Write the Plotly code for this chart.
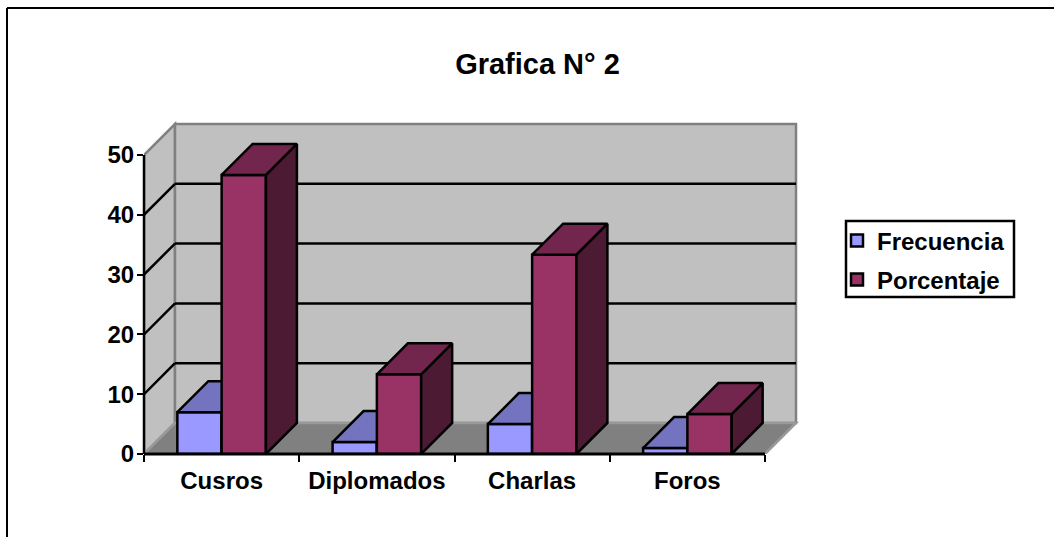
import plotly.graph_objects as go

categories = ["Cusros", "Diplomados", "Charlas", "Foros"]
frecuencia = [7, 2, 5, 1]
porcentaje = [46.67, 13.33, 33.33, 6.67]
y_ticks = [0, 10, 20, 30, 40, 50]
title_text = "Grafica N° 2"

W, H = 1054, 537
PAD = 4
L, T, PW, PH = 144, 124 - PAD, 652 + PAD, 330 + PAD
DEPTH_PX = 31
CAT_PX = 155.3
UNIT_PX = 299 / 50
DX = DEPTH_PX / CAT_PX
DY = DEPTH_PX / UNIT_PX
N = len(categories)
YMAX = y_ticks[-1]
BAR_W = 44.3 / CAT_PX
FONT = "Liberation Sans, Arial, sans-serif"
BLACK = "#000000"
GRAY = "#808080"
WALL = "#C0C0C0"
LW = 2.5


def path(points):
    return "M " + " L ".join(f"{x},{y}" for x, y in points) + " Z"


def poly(points, fill, line=BLACK, lw=2.5, layer="below"):
    return dict(type="path", xref="x", yref="y", path=path(points), fillcolor=fill,
                line=dict(color=line, width=lw), layer=layer)


def seg(x0, y0, x1, y1, color=BLACK, lw=LW, layer="below"):
    return dict(type="line", xref="x", yref="y", x0=x0, y0=y0, x1=x1, y1=y1,
                line=dict(color=color, width=lw), layer=layer)


def px(p):
    return (p - L) / PW


def py(p):
    return 1 - (p - T) / PH


def pseg(px0, py0, px1, py1, lw=2):
    return dict(type="line", xref="paper", yref="paper",
                x0=px(px0), x1=px(px1), y0=py(py0), y1=py(py1),
                line=dict(color=BLACK, width=lw), layer="above")


x_range = [0, N + DX + PAD / CAT_PX]
y_range = [0, YMAX + DY + PAD / UNIT_PX]

shapes = [
    poly([(0, 0), (DX, DY), (DX, YMAX + DY), (0, YMAX)], WALL, GRAY),
    poly([(DX, DY), (N + DX, DY), (N + DX, YMAX + DY), (DX, YMAX + DY)], WALL, GRAY),
    poly([(0, 0), (N, 0), (N + DX, DY), (DX, DY)], GRAY, "#999999"),
]
for v in y_ticks[1:-1]:
    shapes.append(seg(0, v, DX, v + DY))
    shapes.append(seg(DX, v + DY, N + DX, v + DY))
# value axis and category axis, unclipped on the outer edge of the plot area
shapes.append(dict(type="line", xref="paper", yref="y", x0=0, x1=0, y0=0, y1=YMAX,
                   line=dict(color=BLACK, width=LW), layer="above"))
shapes.append(dict(type="line", xref="x", yref="paper", x0=0, x1=N, y0=0, y1=0,
                   line=dict(color=BLACK, width=3), layer="above"))
shapes.append(pseg(7, 8, W + 5, 8))
shapes.append(pseg(7, 8, 7, H + 5))
# legend frame
shapes.append(dict(type="rect", xref="paper", yref="paper",
                   x0=px(846), x1=px(1014), y0=py(221), y1=py(297),
                   fillcolor="white", line=dict(color=BLACK, width=2.5), layer="above"))


def faces(xs, ys, top, side, xa, ya):
    """Top and side faces of a 3D bar, derived from data values."""
    out = []
    for x0, v in zip(xs, ys):
        x1 = x0 + BAR_W
        out.append(go.Scatter(
            x=[x1, x1 + DX, x1 + DX, x1, x1], y=[0, DY, v + DY, v, 0],
            fill="toself", fillcolor=side, mode="lines", line=dict(color=BLACK, width=LW),
            showlegend=False, hoverinfo="skip", xaxis=xa, yaxis=ya))
        out.append(go.Scatter(
            x=[x0, x0 + DX, x1 + DX, x1, x0], y=[v, v + DY, v + DY, v, v],
            fill="toself", fillcolor=top, mode="lines", line=dict(color=BLACK, width=LW),
            showlegend=False, hoverinfo="skip", xaxis=xa, yaxis=ya))
    return out


centers = [i + 0.5 for i in range(N)]
left_x = [c - BAR_W for c in centers]
right_x = list(centers)

fig = go.Figure()
fig.add_trace(go.Bar(name="Frecuencia", x=centers, y=frecuencia, width=BAR_W, offset=-BAR_W,
                     marker=dict(color="#9999FF", line=dict(color=BLACK, width=LW)),
                     xaxis="x", yaxis="y", legend="legend"))
for t in faces(left_x, frecuencia, "#7373BF", "#4D4D80", "x", "y"):
    fig.add_trace(t)
fig.add_trace(go.Bar(name="Porcentaje", x=centers, y=porcentaje, width=BAR_W, offset=0,
                     marker=dict(color="#993366", line=dict(color=BLACK, width=LW)),
                     xaxis="x2", yaxis="y2", legend="legend2"))
for t in faces(right_x, porcentaje, "#73264D", "#4D1A33", "x2", "y2"):
    fig.add_trace(t)

tick_font = dict(family=FONT, size=24, color=BLACK, weight="bold")


def legend_at(yc):
    return dict(x=px(846 - 9), xanchor="left", y=py(yc), yanchor="middle",
                borderwidth=0, bgcolor="rgba(0,0,0,0)",
                font=dict(family=FONT, size=24, color=BLACK, weight="bold"),
                itemwidth=30)


fig.update_layout(
    width=W, height=H, autosize=False,
    margin=dict(l=L, r=W - L - PW, t=T, b=H - T - PH, autoexpand=False),
    paper_bgcolor="white", plot_bgcolor="white",
    showlegend=True, barmode="overlay",
    title=dict(text=title_text, x=537.5 / W, xref="container", xanchor="center",
               y=1 - 64 / H, yref="container", yanchor="middle",
               font=dict(family=FONT, size=29, color=BLACK, weight="bold")),
    legend=legend_at(241),
    legend2=legend_at(280),
    xaxis=dict(range=x_range, tickmode="array", tickvals=centers, ticktext=categories,
               ticks="outside", ticklen=0, tickwidth=0, showgrid=False, zeroline=False,
               showline=False, tickfont=tick_font, ticklabelstandoff=5,
               minor=dict(tickmode="array", tickvals=list(range(N + 1)), ticks="outside",
                          ticklen=7, tickwidth=2, tickcolor=BLACK, showgrid=False)),
    yaxis=dict(range=y_range, tickmode="array", tickvals=y_ticks, ticks="outside",
               ticklen=6, tickwidth=2, tickcolor=BLACK, showgrid=False, zeroline=False,
               showline=False, tickfont=tick_font, ticklabelstandoff=-2),
    xaxis2=dict(range=x_range, overlaying="x", visible=False, showgrid=False, zeroline=False),
    yaxis2=dict(range=y_range, overlaying="y", visible=False, showgrid=False, zeroline=False),
    shapes=shapes,
)
fig.write_html("out.html", config={"displayModeBar": False},
               post_script="document.body.style.margin='0';document.body.style.overflow='hidden';")
